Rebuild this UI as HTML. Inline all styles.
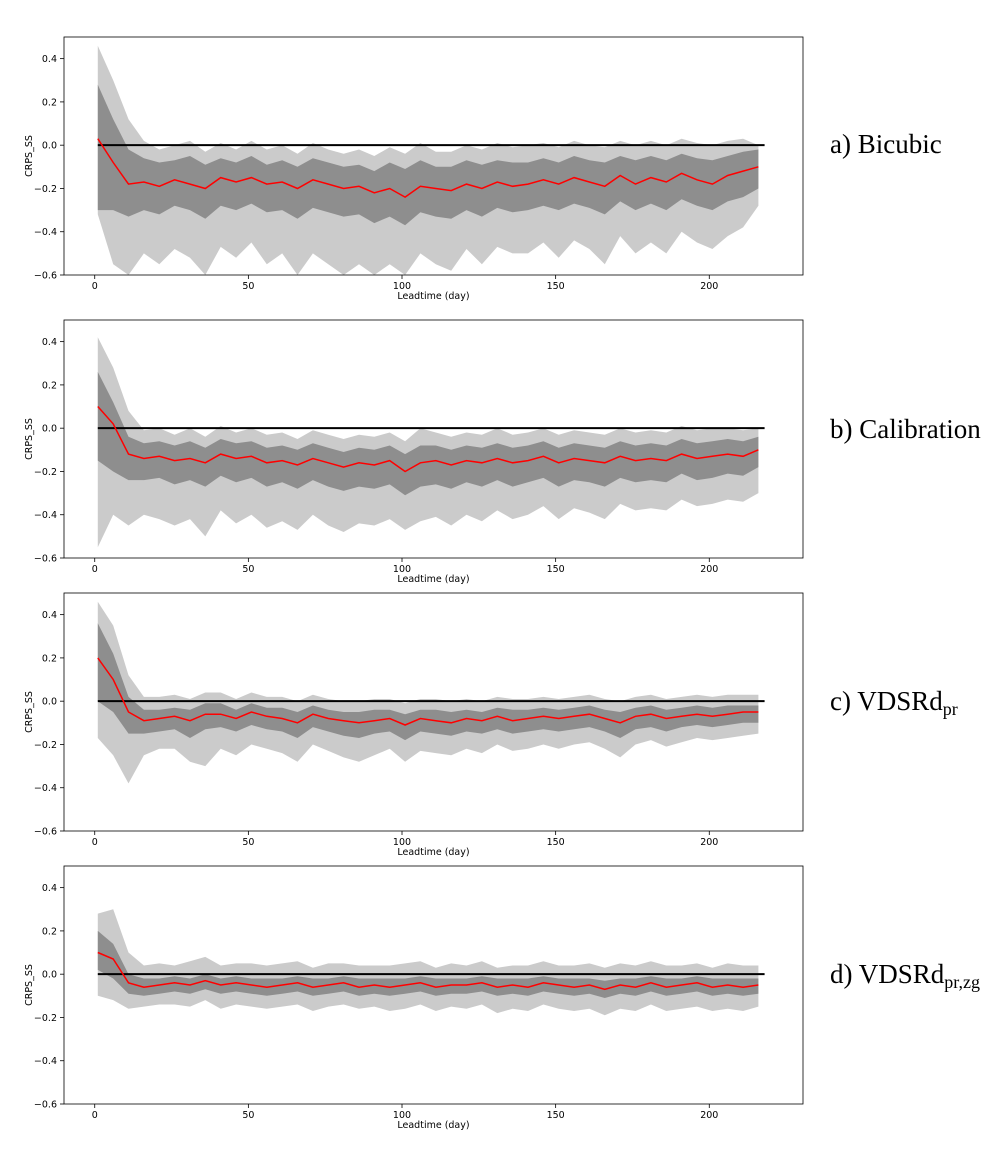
<!DOCTYPE html>
<html><head><meta charset="utf-8">
<style>
body{margin:0;background:#fff;width:1007px;height:1146px;overflow:hidden}
svg text{font-family:"DejaVu Sans","Liberation Sans",sans-serif}
.lab{font-family:"Liberation Serif",serif;font-size:27px;fill:#000}
</style></head>
<body>
<svg id="chart" width="1007" height="1146" viewBox="0 0 1007 1146" xmlns="http://www.w3.org/2000/svg"></svg>
<script>
const days = [1,6,11,16,21,26,31,36,41,46,51,56,61,66,71,76,81,86,91,96,101,106,111,116,121,126,131,136,141,146,151,156,161,166,171,176,181,186,191,196,201,206,211,216];
const xTicks = [0,50,100,150,200];
const yTicks = [-0.6,-0.4,-0.2,0.0,0.2,0.4];
const panelNames = ["bicubic","calibration","vdsrd-pr","vdsrd-pr-zg"];

const aRed = [0.03,-0.08,-0.18,-0.17,-0.19,-0.16,-0.18,-0.2,-0.15,-0.17,-0.15,-0.18,-0.17,-0.2,-0.16,-0.18,-0.2,-0.19,-0.22,-0.2,-0.24,-0.19,-0.2,-0.21,-0.18,-0.2,-0.17,-0.19,-0.18,-0.16,-0.18,-0.15,-0.17,-0.19,-0.14,-0.18,-0.15,-0.17,-0.13,-0.16,-0.18,-0.14,-0.12,-0.1];
const aDarkHi = [0.28,0.12,-0.02,-0.06,-0.08,-0.07,-0.05,-0.09,-0.06,-0.08,-0.05,-0.09,-0.07,-0.1,-0.06,-0.08,-0.1,-0.09,-0.12,-0.08,-0.11,-0.07,-0.1,-0.1,-0.07,-0.09,-0.07,-0.08,-0.08,-0.06,-0.08,-0.05,-0.07,-0.08,-0.05,-0.07,-0.05,-0.07,-0.04,-0.06,-0.07,-0.05,-0.03,-0.02];
const aDarkLo = [-0.3,-0.3,-0.33,-0.3,-0.32,-0.28,-0.3,-0.34,-0.28,-0.3,-0.27,-0.31,-0.3,-0.34,-0.29,-0.31,-0.33,-0.32,-0.36,-0.33,-0.37,-0.31,-0.33,-0.34,-0.3,-0.33,-0.29,-0.31,-0.3,-0.28,-0.3,-0.27,-0.29,-0.32,-0.26,-0.3,-0.27,-0.3,-0.25,-0.28,-0.3,-0.26,-0.24,-0.2];
const aLightHi = [0.46,0.3,0.12,0.02,-0.02,0.0,0.02,-0.03,0.01,-0.02,0.02,-0.02,0.0,-0.04,0.01,-0.02,-0.04,-0.02,-0.05,-0.01,-0.04,0.01,-0.03,-0.03,0.0,-0.02,0.01,-0.01,0.0,0.01,-0.01,0.02,0.0,-0.01,0.02,0.0,0.02,0.0,0.03,0.01,0.0,0.02,0.03,0.0];
const aLightLo = [-0.32,-0.55,-0.6,-0.5,-0.55,-0.48,-0.52,-0.6,-0.47,-0.52,-0.45,-0.55,-0.5,-0.6,-0.5,-0.55,-0.6,-0.55,-0.6,-0.55,-0.6,-0.5,-0.55,-0.58,-0.48,-0.55,-0.47,-0.5,-0.5,-0.45,-0.52,-0.44,-0.48,-0.55,-0.42,-0.5,-0.45,-0.5,-0.4,-0.45,-0.48,-0.42,-0.38,-0.28];

const bRed = [0.1,0.02,-0.12,-0.14,-0.13,-0.15,-0.14,-0.16,-0.12,-0.14,-0.13,-0.16,-0.15,-0.17,-0.14,-0.16,-0.18,-0.16,-0.17,-0.15,-0.2,-0.16,-0.15,-0.17,-0.15,-0.16,-0.14,-0.16,-0.15,-0.13,-0.16,-0.14,-0.15,-0.16,-0.13,-0.15,-0.14,-0.15,-0.12,-0.14,-0.13,-0.12,-0.13,-0.1];
const bDarkHi = [0.26,0.12,-0.04,-0.07,-0.06,-0.08,-0.06,-0.09,-0.05,-0.07,-0.06,-0.09,-0.08,-0.1,-0.07,-0.09,-0.11,-0.09,-0.1,-0.08,-0.12,-0.08,-0.08,-0.1,-0.08,-0.09,-0.07,-0.09,-0.08,-0.06,-0.09,-0.07,-0.08,-0.09,-0.06,-0.08,-0.07,-0.08,-0.05,-0.07,-0.06,-0.05,-0.06,-0.04];
const bDarkLo = [-0.15,-0.2,-0.24,-0.24,-0.23,-0.26,-0.24,-0.27,-0.22,-0.25,-0.23,-0.27,-0.25,-0.28,-0.24,-0.27,-0.29,-0.27,-0.28,-0.26,-0.31,-0.27,-0.26,-0.28,-0.25,-0.27,-0.24,-0.27,-0.25,-0.23,-0.27,-0.24,-0.25,-0.27,-0.23,-0.25,-0.24,-0.25,-0.21,-0.24,-0.23,-0.21,-0.22,-0.18];
const bLightHi = [0.42,0.28,0.08,-0.01,0.0,-0.03,0.0,-0.04,0.01,-0.02,0.0,-0.03,-0.02,-0.05,-0.01,-0.03,-0.05,-0.03,-0.04,-0.02,-0.06,0.0,-0.02,-0.04,-0.02,-0.03,0.0,-0.03,-0.02,0.0,-0.03,-0.01,-0.02,-0.03,0.0,-0.02,-0.01,-0.02,0.01,-0.01,0.0,0.0,-0.01,0.0];
const bLightLo = [-0.55,-0.4,-0.45,-0.4,-0.42,-0.45,-0.42,-0.5,-0.38,-0.44,-0.4,-0.46,-0.43,-0.47,-0.4,-0.45,-0.48,-0.44,-0.45,-0.42,-0.47,-0.43,-0.41,-0.45,-0.4,-0.43,-0.38,-0.42,-0.4,-0.36,-0.42,-0.37,-0.39,-0.42,-0.35,-0.38,-0.37,-0.38,-0.33,-0.36,-0.35,-0.33,-0.34,-0.3];

const cRed = [0.2,0.1,-0.05,-0.09,-0.08,-0.07,-0.09,-0.06,-0.06,-0.08,-0.05,-0.07,-0.08,-0.1,-0.06,-0.08,-0.09,-0.1,-0.09,-0.08,-0.11,-0.08,-0.09,-0.1,-0.08,-0.09,-0.07,-0.09,-0.08,-0.07,-0.08,-0.07,-0.06,-0.08,-0.1,-0.07,-0.06,-0.08,-0.07,-0.06,-0.07,-0.06,-0.05,-0.05];
const cDarkHi = [0.36,0.22,0.02,-0.04,-0.04,-0.03,-0.04,-0.01,-0.01,-0.04,-0.01,-0.03,-0.03,-0.05,-0.02,-0.04,-0.05,-0.05,-0.04,-0.04,-0.06,-0.04,-0.04,-0.05,-0.04,-0.05,-0.03,-0.04,-0.04,-0.03,-0.04,-0.03,-0.02,-0.04,-0.05,-0.03,-0.02,-0.04,-0.03,-0.02,-0.03,-0.02,-0.02,-0.02];
const cDarkLo = [0.0,-0.05,-0.15,-0.15,-0.14,-0.13,-0.17,-0.13,-0.12,-0.14,-0.11,-0.13,-0.14,-0.17,-0.12,-0.14,-0.16,-0.17,-0.15,-0.14,-0.18,-0.14,-0.15,-0.16,-0.14,-0.15,-0.13,-0.15,-0.14,-0.13,-0.14,-0.13,-0.12,-0.14,-0.17,-0.13,-0.12,-0.14,-0.12,-0.11,-0.12,-0.11,-0.1,-0.1];
const cLightHi = [0.46,0.35,0.12,0.02,0.02,0.03,0.01,0.04,0.04,0.01,0.04,0.02,0.02,0.0,0.03,0.01,0.0,0.0,0.01,0.01,-0.01,0.01,0.01,0.0,0.01,0.0,0.02,0.01,0.01,0.02,0.01,0.02,0.03,0.01,0.0,0.02,0.03,0.01,0.02,0.03,0.02,0.03,0.03,0.03];
const cLightLo = [-0.17,-0.25,-0.38,-0.25,-0.22,-0.22,-0.28,-0.3,-0.22,-0.25,-0.2,-0.22,-0.24,-0.28,-0.2,-0.23,-0.26,-0.28,-0.25,-0.22,-0.28,-0.23,-0.24,-0.25,-0.22,-0.24,-0.2,-0.23,-0.22,-0.2,-0.22,-0.2,-0.19,-0.22,-0.26,-0.2,-0.18,-0.21,-0.19,-0.17,-0.18,-0.17,-0.16,-0.15];

const dRed = [0.1,0.07,-0.04,-0.06,-0.05,-0.04,-0.05,-0.03,-0.05,-0.04,-0.05,-0.06,-0.05,-0.04,-0.06,-0.05,-0.04,-0.06,-0.05,-0.06,-0.05,-0.04,-0.06,-0.05,-0.05,-0.04,-0.06,-0.05,-0.06,-0.04,-0.05,-0.06,-0.05,-0.07,-0.05,-0.06,-0.04,-0.06,-0.05,-0.04,-0.06,-0.05,-0.06,-0.05];
const dDarkHi = [0.2,0.14,0.0,-0.02,-0.02,-0.01,-0.02,0.0,-0.02,-0.01,-0.02,-0.02,-0.02,-0.01,-0.02,-0.02,-0.01,-0.02,-0.02,-0.02,-0.02,-0.01,-0.02,-0.02,-0.02,-0.01,-0.02,-0.02,-0.02,-0.01,-0.02,-0.02,-0.02,-0.03,-0.02,-0.02,-0.01,-0.02,-0.02,-0.01,-0.02,-0.02,-0.02,-0.02];
const dDarkLo = [0.02,-0.02,-0.09,-0.1,-0.09,-0.08,-0.09,-0.07,-0.09,-0.08,-0.09,-0.1,-0.09,-0.08,-0.1,-0.09,-0.08,-0.1,-0.09,-0.1,-0.09,-0.08,-0.1,-0.09,-0.09,-0.08,-0.1,-0.09,-0.1,-0.08,-0.09,-0.1,-0.09,-0.11,-0.09,-0.1,-0.08,-0.1,-0.09,-0.08,-0.1,-0.09,-0.1,-0.09];
const dLightHi = [0.28,0.3,0.1,0.04,0.05,0.04,0.06,0.08,0.04,0.05,0.05,0.04,0.05,0.06,0.03,0.05,0.05,0.04,0.04,0.04,0.05,0.06,0.03,0.05,0.04,0.06,0.03,0.04,0.04,0.06,0.04,0.04,0.05,0.03,0.05,0.04,0.06,0.04,0.04,0.05,0.03,0.05,0.04,0.04];
const dLightLo = [-0.1,-0.12,-0.16,-0.15,-0.14,-0.14,-0.15,-0.12,-0.16,-0.14,-0.15,-0.16,-0.15,-0.14,-0.17,-0.15,-0.14,-0.16,-0.15,-0.17,-0.16,-0.14,-0.17,-0.15,-0.16,-0.14,-0.18,-0.16,-0.17,-0.14,-0.16,-0.17,-0.16,-0.19,-0.16,-0.17,-0.14,-0.17,-0.16,-0.15,-0.17,-0.16,-0.17,-0.15];

const panelData = [
  [aLightLo,aLightHi,aDarkLo,aDarkHi,aRed],
  [bLightLo,bLightHi,bDarkLo,bDarkHi,bRed],
  [cLightLo,cLightHi,cDarkLo,cDarkHi,cRed],
  [dLightLo,dLightHi,dDarkLo,dDarkHi,dRed]
];
const tops = [37,320,593,866];

const NS = "http://www.w3.org/2000/svg";
const svg = document.getElementById("chart");
function mk(tag, attrs, parent){const e=document.createElementNS(NS,tag);for(const k in attrs)e.setAttribute(k,attrs[k]);(parent||svg).appendChild(e);return e;}

const L=64,R=803,H=238;
const xMin=-10,xMax=230.5,yMin=-0.6,yMax=0.5;
const xs = v => L + (v-xMin)/(xMax-xMin)*(R-L);

panelData.forEach((series,pi)=>{
  const T=tops[pi];
  const ys = v => T + (yMax-v)/(yMax-yMin)*H;
  const g = mk("g",{});
  
  
  const band=(lo,hi,fill,name)=>{
    let d="M"+days.map((x,i)=>xs(x).toFixed(1)+","+ys(Math.max(hi[i],yMin)).toFixed(1)).join("L");
    d+="L"+days.map((x,i)=>[x,i]).reverse().map(([x,i])=>xs(x).toFixed(1)+","+ys(Math.max(lo[i],yMin)).toFixed(1)).join("L")+"Z";
    const p=mk("path",{d:d,fill:fill},g);
    
    
  };
  band(series[0],series[1],"#cbcbcb","outer-range-band");
  band(series[2],series[3],"#8e8e8e","inner-range-band");
  const z=mk("line",{x1:xs(1),x2:xs(218),y1:ys(0),y2:ys(0),stroke:"#000","stroke-width":2},g);
  
  
  const red=mk("polyline",{points:days.map((x,i)=>xs(x).toFixed(1)+","+ys(series[4][i]).toFixed(1)).join(" "),fill:"none",stroke:"#ff0000","stroke-width":1.5},g);
  
  
  const box=mk("rect",{x:L,y:T,width:R-L,height:H,fill:"none",stroke:"#000","stroke-width":0.8},g);
  
  
  yTicks.forEach(v=>{
    mk("line",{x1:L-4,x2:L,y1:ys(v),y2:ys(v),stroke:"#000","stroke-width":0.8},g);
    const t=mk("text",{x:L-7,y:ys(v)+3.5,"text-anchor":"end","font-size":9.5},g);
    t.textContent=(v<0?"\u2212":"")+Math.abs(v).toFixed(1);
    
    
  });
  xTicks.forEach(v=>{
    mk("line",{x1:xs(v),x2:xs(v),y1:T+H,y2:T+H+4,stroke:"#000","stroke-width":0.8},g);
    const t=mk("text",{x:xs(v),y:T+H+14,"text-anchor":"middle","font-size":9.5},g);
    t.textContent=v;
    
    
  });
  const xt=mk("text",{x:(L+R)/2,y:T+H+24,"text-anchor":"middle","font-size":9.5},g);
  xt.textContent="Leadtime (day)";
  
  
  const cy=T+H/2;
  const yt=mk("text",{x:32,y:cy,"text-anchor":"middle","font-size":9.5,transform:"rotate(-90 32 "+cy+")"},g);
  yt.textContent="CRPS_SS";
  
  
});
</script>
<svg style="position:absolute;left:0;top:0" width="1007" height="1146">
  <text class="lab" x="830" y="153">a) Bicubic</text>
  <text class="lab" x="830" y="438">b) Calibration</text>
  <text class="lab" x="830" y="710">c) VDSRd<tspan font-size="18" dy="5">pr</tspan></text>
  <text class="lab" x="830" y="983">d) VDSRd<tspan font-size="18" dy="5">pr,zg</tspan></text>
</svg>
</body></html>
